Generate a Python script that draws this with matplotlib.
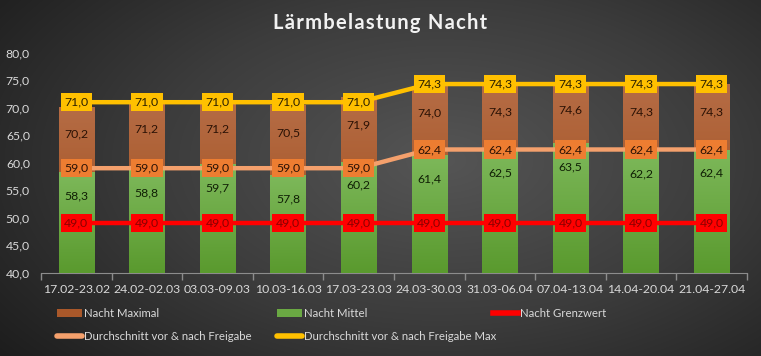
import numpy as np
import matplotlib
matplotlib.use("Agg")
import matplotlib.pyplot as plt
from matplotlib.lines import Line2D
from matplotlib.patches import Patch
from matplotlib.colors import LinearSegmentedColormap

plt.rcParams['font.family'] = ['Lato', 'DejaVu Sans']

categories = ["17.02-23.02", "24.02-02.03", "03.03-09.03", "10.03-16.03", "17.03-23.03",
              "24.03-30.03", "31.03-06.04", "07.04-13.04", "14.04-20.04", "21.04-27.04"]
nacht_max = [70.2, 71.2, 71.2, 70.5, 71.9, 74.0, 74.3, 74.6, 74.3, 74.3]
nacht_mittel = [58.3, 58.8, 59.7, 57.8, 60.2, 61.4, 62.5, 63.5, 62.2, 62.4]
grenzwert = [49.0] * 10
durchschnitt = [59.0] * 5 + [62.4] * 5
durchschnitt_max = [71.0] * 5 + [74.3] * 5
yticks = [40, 45, 50, 55, 60, 65, 70, 75, 80]
title = "Lärmbelastung Nacht"

W, H = 761, 356
fig = plt.figure(figsize=(W / 100, H / 100), dpi=100)

# background radial gradient
bg = fig.add_axes([0, 0, 1, 1], zorder=-10)
yy, xx = np.mgrid[0:H, 0:W]
d = np.sqrt(((xx - 0.58 * W) / (0.75 * W)) ** 2 + ((yy - 0.45 * H) / (0.9 * H)) ** 2)
bgcmap = LinearSegmentedColormap.from_list("bg", ["#555555", "#3c3c3c", "#1c1c1c"])
bg.imshow(np.clip(d, 0, 1), cmap=bgcmap, vmin=0, vmax=1, aspect='auto', extent=[0, 1, 0, 1])
bg.axis('off')

ax = fig.add_axes([41 / W, 1 - 272.7 / H, 706 / W, 220 / H])
ax.patch.set_alpha(0)
x = np.arange(len(categories))

bmax = ax.bar(x, np.array(nacht_max) - 40, bottom=40, width=0.5, color="#A9582A", zorder=2)
bmit = ax.bar(x, np.array(nacht_mittel) - 40, bottom=40, width=0.5, color="#6AA843", zorder=3)

# gradient overlays
def grad(bars, top, bottom, z):
    cm = LinearSegmentedColormap.from_list("g", [bottom, top])
    g = np.linspace(0, 1, 64).reshape(-1, 1)
    for b in bars:
        im = ax.imshow(g, cmap=cm, aspect='auto', origin='lower',
                       extent=[b.get_x(), b.get_x() + b.get_width(), b.get_y(), b.get_y() + b.get_height()],
                       zorder=z)
        im.set_clip_path(b)

grad(bmax, "#B56C45", "#A04C18", 2.1)
grad(bmit, "#7DB85A", "#5A9A2E", 3.1)

ax.plot(x, grenzwert, color="#FF0000", lw=3.2, zorder=4)
ax.plot(x, durchschnitt, color="#F4A06C", lw=3.2, zorder=4)
ax.plot(x, durchschnitt_max, color="#FFC000", lw=3.2, zorder=4)

FS = 8.8
# data labels
for i in x:
    ax.text(i, nacht_max[i] - 5.0, f"{nacht_max[i]:.1f}".replace('.', ','), ha='center', va='center',
            fontsize=FS, color="#2B1205", zorder=6)
    ax.text(i, nacht_mittel[i] - 4.3, f"{nacht_mittel[i]:.1f}".replace('.', ','), ha='center', va='center',
            fontsize=FS, color="#102005", zorder=6)
    for vals, fc, tc in ((grenzwert, "#FF0000", "#8B0000"),
                         (durchschnitt, "#ED7D31", "#2B1205"),
                         (durchschnitt_max, "#FFC000", "#2B2000")):
        ax.text(i, vals[i], f"{vals[i]:.1f}".replace('.', ','), ha='center', va='center',
                fontsize=FS, color=tc, zorder=7,
                bbox=dict(boxstyle='square,pad=0.3', fc=fc, ec='none'))

ax.set_xlim(-0.5, len(categories) - 0.5)
ax.set_ylim(40, 80)
ax.set_yticks(yticks)
ax.set_yticklabels([f"{v:.1f}".replace('.', ',') for v in yticks], color="#D9D9D9", fontsize=FS)
ax.tick_params(axis='y', length=0, pad=8)
ax.set_xticks(x)
ax.set_xticklabels(categories, color="#D9D9D9", fontsize=FS)
ax.tick_params(axis='x', length=0, pad=8)
ax.set_xticks(np.arange(-0.5, len(categories)), minor=True)
ax.tick_params(axis='x', which='minor', length=5, color="#8C8C8C", width=1)
for s in ('top', 'right', 'left'):
    ax.spines[s].set_visible(False)
ax.spines['bottom'].set_color("#8C8C8C")

spaced = "\u200a".join(title)
fig.text(0.5, 1 - 23 / H, spaced, ha='center', va='center', fontsize=14.5,
         fontweight='bold', color="#F2F2F2")

h_max = Patch(facecolor="#A9582A")
h_mit = Patch(facecolor="#6AA843")
h_gr = Line2D([], [], color="#FF0000", lw=4)
h_d = Line2D([], [], color="#F4A06C", lw=4, solid_capstyle='round')
h_dm = Line2D([], [], color="#FFC000", lw=4, solid_capstyle='round')

def leg(handles, labels, xpx):
    lg = fig.legend(handles, labels, loc='upper left', bbox_to_anchor=(xpx / W, 1 - 308 / H),
                    frameon=False, fontsize=8.2, labelcolor="#D9D9D9", handlelength=2.2,
                    handleheight=0.6, handletextpad=0.2, labelspacing=1.05, borderpad=0, borderaxespad=0)
    return lg

leg([h_max, h_d], ["Nacht Maximal", "Durchschnitt vor & nach Freigabe"], 57)
leg([h_mit, h_dm], ["Nacht Mittel", "Durchschnitt vor & nach Freigabe Max"], 277)
leg([h_gr], ["Nacht Grenzwert"], 493)

fig.savefig("out.png", dpi=100)
